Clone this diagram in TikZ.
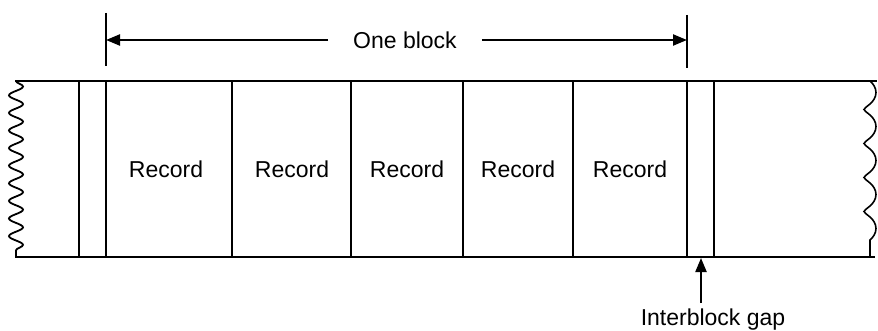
\documentclass[tikz,border=0pt]{standalone}
\usepackage{fontspec}
\setmainfont{Liberation Sans}
\usetikzlibrary{arrows.meta,decorations.pathmorphing}

\begin{document}
\begin{tikzpicture}[
    x=1pt, y=-1pt,
    font=\fontsize{23pt}{27pt}\selectfont,
    tape/.style={line width=2.2pt},
    record/.style={inner sep=0pt, text centered},
    dimtext/.style={inner sep=0pt, text centered},
    arrow/.style={line width=2.2pt, -{Triangle[length=14pt, width=11pt]}},
    tornleft/.style={line width=1.8pt, decorate, decoration={snake, segment length=17.6pt, amplitude=7pt}},
    tornright/.style={line width=1.6pt, decorate, decoration={coil, segment length=34pt, amplitude=6pt, aspect=0.5}}
]
\useasboundingbox (0,0) rectangle (878,331);

% --- Tape ---
\draw [tape] (15,81) -- (877,81);
\draw [tape] (15,257) -- (875,257);
\draw [tornleft] (16,81) -- (16,257);
\draw [tornright] (870,81) -- (870,257);

% record and gap boundaries
\draw [tape] (79,81) -- (79,257)
             (106,81) -- (106,257)
             (232,81) -- (232,257)
             (351,81) -- (351,257)
             (463,81) -- (463,257)
             (573,81) -- (573,257)
             (687,81) -- (687,257)
             (714,81) -- (714,257);

% --- Nodes ---
\node (rec1) at (166,169) [record] {Record};
\node (rec2) at (292,169) [record] {Record};
\node (rec3) at (407,169) [record] {Record};
\node (rec4) at (518,169) [record] {Record};
\node (rec5) at (630,169) [record] {Record};

\node (oneblock) at (405,40) [dimtext, inner xsep=25pt] {One block};
\node (gap) at (713,320) [dimtext, inner ysep=6pt] {Interblock gap};

% --- Dimension of one block ---
\draw [tape] (106,13) -- (106,66);
\draw [tape] (687,15) -- (687,68);
\coordinate (blkL) at (106,40);
\coordinate (blkR) at (687,40);
\draw [arrow] (oneblock.west) -- (blkL);
\draw [arrow] (oneblock.east) -- (blkR);

% --- Interblock gap pointer ---
\coordinate (gaptop) at (701,258);
\draw [arrow] (gap.north -| gaptop) -- (gaptop);

\end{tikzpicture}
\end{document}
